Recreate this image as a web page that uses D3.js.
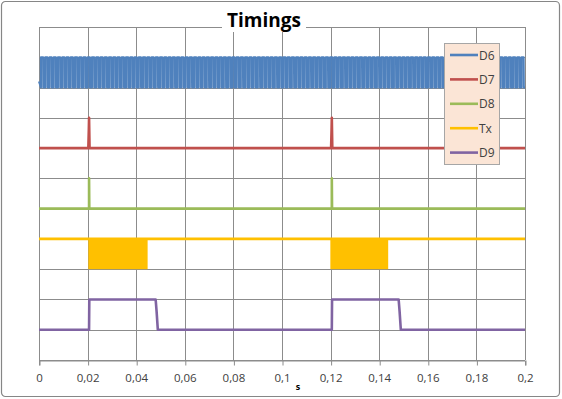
<!doctype html>
<html>
<head>
<script src="https://d3js.org/d3.v7.min.js"></script>
<style>
  body { margin: 0; background: #fff; }
  text { font-family: "Open Sans", "Liberation Sans", sans-serif; }
</style>
</head>
<body>
<script>
var width = 562, height = 399;

// x ticks (seconds), y levels one unit per grid row
var xTicks = [0, 0.02, 0.04, 0.06, 0.08, 0.1, 0.12, 0.14, 0.16, 0.18, 0.2];
var yTicks = [0, 1, 2, 3, 4, 5, 6, 7, 8, 9, 10, 11];
var seriesNames = ["D6", "D7", "D8", "Tx", "D9"];
var seriesColors = ["#4f81bd", "#c0504d", "#9bbb59", "#ffc000", "#8064a2"];

// D6 clock: start, end, period, low, high
var d6Clock = [0.0008, 0.1995, 0.00175, 9, 10];
var d7Points = [[0, 7], [0.0203, 7], [0.0205, 7.6], [0.0206, 8], [0.0208, 7], [0.1202, 7], [0.1204, 7.6], [0.1205, 8], [0.1207, 7], [0.2, 7]];
var d8Points = [[0, 5], [0.0206, 5], [0.0206, 6], [0.0207, 5], [0.1205, 5], [0.1205, 6], [0.1206, 5], [0.2, 5]];
var txPoints = [[0, 4], [0.2, 4]];
var txBursts = [[0.0203, 0.0447, 3, 4], [0.1199, 0.1437, 3, 4]];
var d9Points = [[0, 1], [0.0206, 1], [0.0207, 2], [0.0480, 2], [0.0484, 1.6], [0.0489, 1], [0.1205, 1], [0.1206, 2], [0.1480, 2], [0.1484, 1.6], [0.1489, 1], [0.2, 1]];

var margin = {left: 39, right: 37, top: 27, bottom: 39};

var x = d3.scaleLinear().domain([0, 0.2]).range([margin.left, width - margin.right]);
var y = d3.scaleLinear().domain([0, 11]).range([height - margin.bottom, margin.top]);

var svg = d3.select("body").append("svg")
    .attr("width", width)
    .attr("height", height);

// outer chart border
svg.append("rect")
    .attr("x", 1.5).attr("y", 1.5)
    .attr("width", width - 4).attr("height", height - 4)
    .attr("rx", 4)
    .attr("fill", "#fff")
    .attr("stroke", "#868686")
    .attr("stroke-width", 1.2);

// gridlines
svg.append("g").selectAll("line").data(yTicks).enter().append("line")
    .attr("x1", margin.left).attr("x2", width - margin.right)
    .attr("y1", function(d) { return Math.round(y(d)) + 0.5; })
    .attr("y2", function(d) { return Math.round(y(d)) + 0.5; })
    .attr("stroke", "#8c8c8c");

svg.append("g").selectAll("line").data(xTicks).enter().append("line")
    .attr("x1", function(d) { return Math.round(x(d)) + 0.5; })
    .attr("x2", function(d) { return Math.round(x(d)) + 0.5; })
    .attr("y1", y(11)).attr("y2", y(0))
    .attr("stroke", "#8c8c8c");

// x axis
var xAxis = d3.axisBottom(x)
    .tickValues(xTicks)
    .tickSize(5)
    .tickFormat(function(d) { return String(d).replace(".", ","); });

var gx = svg.append("g")
    .attr("transform", "translate(0," + (Math.round(y(0)) + 0.5) + ")")
    .call(xAxis);
gx.select(".domain").attr("stroke", "#8c8c8c");
gx.selectAll(".tick line").attr("stroke", "#8c8c8c").attr("transform", "translate(0.5,0)");
gx.selectAll(".tick text")
    .attr("y", 13)
    .attr("font-size", 11.5)
    .attr("fill", "#404040")
    .style("font-family", "Open Sans, sans-serif");

var line = d3.line()
    .x(function(d) { return x(d[0]); })
    .y(function(d) { return y(d[1]); });

// D6 clock points (square wave)
var d6Points = [[0, 9.2]];
for (var t = d6Clock[0]; t < d6Clock[1]; t += d6Clock[2]) {
    d6Points.push([t, d6Clock[3]]);
    d6Points.push([t, d6Clock[4]]);
    d6Points.push([t + d6Clock[2] * 0.5, d6Clock[4]]);
    d6Points.push([t + d6Clock[2] * 0.55, d6Clock[3]]);
}
d6Points.push([0.2, d6Clock[3]]);

var seriesData = [d6Points, d7Points, d8Points, txPoints, d9Points];

// Tx bursts
svg.append("g").selectAll("rect").data(txBursts).enter().append("rect")
    .attr("x", function(d) { return x(d[0]); })
    .attr("width", function(d) { return x(d[1]) - x(d[0]); })
    .attr("y", function(d) { return y(d[3]); })
    .attr("height", function(d) { return y(d[2]) - y(d[3]); })
    .attr("fill", seriesColors[3]);

svg.append("g").selectAll("path").data(seriesData).enter().append("path")
    .attr("d", line)
    .attr("fill", "none")
    .attr("stroke", function(d, i) { return seriesColors[i]; })
    .attr("stroke-width", function(d, i) { return i == 0 ? 2.1 : 2.6; })
    .attr("stroke-linejoin", "round");

// title
svg.append("rect")
    .attr("x", 222).attr("y", 8).attr("width", 84).attr("height", 24)
    .attr("fill", "#fff");
svg.append("text")
    .attr("x", 264).attr("y", 27)
    .attr("text-anchor", "middle")
    .attr("font-size", 19)
    .attr("font-weight", "bold")
    .attr("fill", "#000")
    .text("Timings");

// axis title
svg.append("text")
    .attr("x", 298).attr("y", 390)
    .attr("text-anchor", "middle")
    .attr("font-size", 9)
    .attr("font-weight", "bold")
    .attr("fill", "#000")
    .text("s");

// legend
var legend = svg.append("g");
legend.append("rect")
    .attr("x", 444.5).attr("y", 43.5)
    .attr("width", 55).attr("height", 121)
    .attr("fill", "#fbe5d6")
    .attr("stroke", "#a6a6a6");

var items = legend.selectAll("g").data(seriesNames).enter().append("g")
    .attr("transform", function(d, i) { return "translate(0," + (55 + i * 24.4) + ")"; });
items.append("line")
    .attr("x1", 450).attr("x2", 478)
    .attr("stroke", function(d, i) { return seriesColors[i]; })
    .attr("stroke-width", 2.6);
items.append("text")
    .attr("x", 479).attr("y", 4.5)
    .attr("font-size", 12)
    .attr("fill", "#404040")
    .text(function(d) { return d; });
</script>
</body>
</html>
